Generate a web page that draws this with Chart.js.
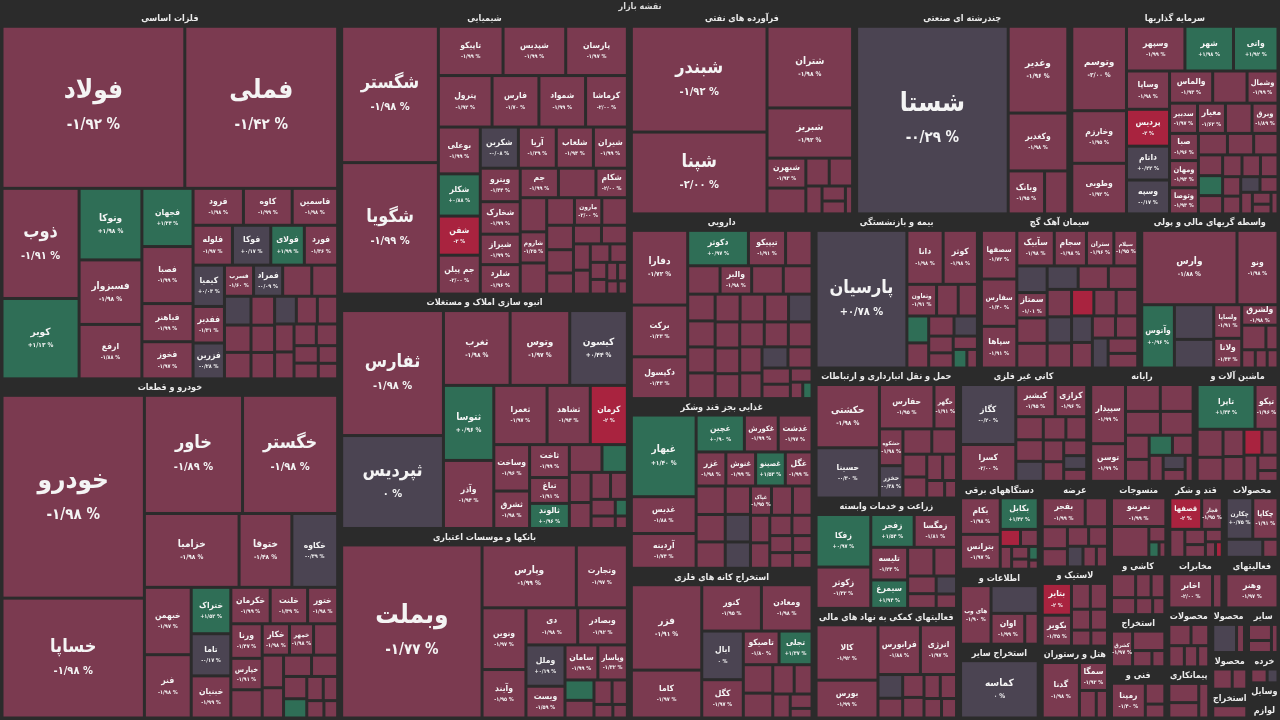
<!DOCTYPE html>
<html>
<head>
<meta charset="utf-8">
<script src="https://cdn.jsdelivr.net/npm/chart.js@4.4.0/dist/chart.umd.min.js"></script>
<style>
  html, body { margin: 0; padding: 0; background: #2b2b2b; }
  canvas { display: block; }
</style>
</head>
<body>
<canvas id="map" width="1280" height="720"></canvas>
<script>
// sectors of the market map, value = relative market size
var sectorNames = [
  'فلزات اساسی', 'خودرو و قطعات', 'شیمیایی', 'انبوه سازی املاک و مستغلات', 'بانکها و موسسات اعتباری',
  'فرآورده های نفتی', 'چندرشته ای صنعتی', 'سرمایه گذاریها', 'دارویی', 'غذایی بجز قند وشکر',
  'استخراج کانه های فلزی', 'بیمه و بازنشستگی', 'سیمان آهک گچ', 'واسطه گریهای مالی و پولی',
  'حمل و نقل انبارداری و ارتباطات', 'زراعت و خدمات وابسته', 'فعالیتهای کمکی به نهاد های مالی واسط',
  'کانی غیر فلزی', 'رایانه', 'ماشین آلات و تجهیزات', 'دستگاههای برقی', 'اطلاعات و ارتباطات',
  'استخراج سایر معادن', 'عرضه برق،گاز،بخار و آب گرم', 'لاستیک و پلاستیک', 'هتل و رستوران', 'منسوجات',
  'قند و شکر', 'محصولات کاغذی', 'کاشی و سرامیک', 'مخابرات', 'فعالیتهای هنری، سرگرمی و خلاقانه',
  'استخراج زغال سنگ', 'فنی و مهندسی', 'محصولات فلزی', 'پیمانکاری صنعتی', 'محصولات چوبی',
  'سایر واسطه گریهای مالی', 'محصولات چرمی', 'استخراج نفت گاز و خدمات جنبی', 'خرده فروشی',
  'وسایل ارتباطی', 'لوازم خانگی'
];
var sectorValues = [
  12580, 11560, 8265, 6815, 5510, 4613, 4408, 4305, 3423, 3145,
  2775, 2558, 2480, 2170, 1885, 1600, 1590, 1480, 1210, 965,
  720, 615, 605, 595, 550, 500, 445, 430, 425, 330,
  290, 285, 300, 295, 260, 225, 160, 150, 140, 110,
  95, 60, 50
];

// symbols per sector; cells past the end of a name list are too small for a label
var stockNames = [
  ['فولاد','فملی','ذوب','کویر','وتوکا','فسبزوار','ارفع','فجهان','فصبا','فرود','فباهنر','فخوز','کاوه','فاسمین','فلوله','فوکا','فولای','فورد','کیمیا','ففدیر','فزرین','فسرب','فمراد'],
  ['خودرو','خساپا','خاور','خگستر','خزامیا','ختوقا','خکاوه','خبهمن','فنر','ختراک','تاما','خبنیان','خکرمان','خلنت','ختور','ورنا','خپارس','خکار','خمهر'],
  ['شگستر','شگویا','تاپیکو','شپدیس','پارسان','پترول','فارس','شمواد','کرماشا','شکلر','بوعلی','شفن','جم پیلن','شکربن','آریا','شلعاب','شیران','ویترو','شخارک','شیراز','شلرد','جم','شکام','شاروم','مارون'],
  ['ثفارس','ثپردیس','ثغرب','وتوس','کیسون','ثتوسا','وآذر','ثعمرا','ثشاهد','کرمان','وساخت','ثشرق','ثاخت','تباغ','ثالوند'],
  ['وبملت','وپارس','وتجارت','ونوین','وآیند','دی','وبصادر','وملل','ویست','سامان','وپاسار'],
  ['شبندر','شپنا','شتران','شبریز','شبهرن'],
  ['شستا','وغدیر','وکغدیر','وبانک'],
  ['وتوسم','وخارزم','وطوبی','وسپهر','شهر','واتی','وساپا','پردیس','داتام','وسپه','والماس','وشمال','سدبیر','معیار','وبرق','صبا','ومهان','وتوصا'],
  ['دفارا','برکت','دکپسول','دکوثر','تیپیکو','والبر'],
  ['غبهار','غدیس','آردینه','غچین','غکورش','غدشت','غزر','غنوش','غصینو','غگل','غپاک'],
  ['فزر','کاما','کنور','ومعادن','ابال','کگل','تاصیکو','تجلی'],
  ['پارسیان','دانا','کوثر','وتعاون'],
  ['سصفها','سفارس','سپاها','سآبیک','سجام','ستران','سیلام','سمتاز'],
  ['وارس','ونو','وآتوس','ولساپا','ولانا','ولشرق'],
  ['حکشتی','حسینا','حفارس','حگهر','حشکوه','حخزر'],
  ['زفکا','زکوثر','زفجر','زمگسا','تلیسه','سیمرغ'],
  ['کالا','بورس','فرابورس','انرژی'],
  ['کگاز','کسرا','کیشیر','کرازی'],
  ['سپیدار','توسن'],
  ['تاپرا','تپکو'],
  ['بکام','بترانس','بکابل'],
  ['های وب','','اوان'],
  ['کماسه'],
  ['بفجر'],
  ['بتایر','بکویر'],
  ['گدنا','سمگا'],
  ['نمرینو'],
  ['قصفها','قجار'],
  ['چکارن','چکاپا'],
  [],
  ['اخابر'],
  ['وهنر'],
  ['کشرق'],
  ['رمپنا'],
  [], [], [], [], [], [], [], [], []
];

var stockValues = [
  [2946,2463,844,616,447,403,340,296,290,185,194,189,179,167,156,152,133,132,129,114,112,90,90, 90,80,76,72,70,68,64,62,60,58,56,54,52,48,46,42,38,34,30],
  [2903,1716,1166,1130,703,392,340,317,298,185,168,168,144,137,110,109,99,86,76, 89,76,70,65,60,56,52,45,40,35,30,24],
  [1311,1264,317,307,302,275,240,239,214,176,195,163,162,156,155,152,139,133,129,121,117,112,92,82,75, 110,90,82,76,70,65,62,56,52,48,44,40,36,32,28,24,20,18,15,12],
  [1263,939,495,443,428,375,340,313,254,218,165,133,130,102,99, 90,70,65,56,52,45,40,30,20,15],
  [2468,602,326,275,216,195,187,164,126,117,105, 60,52,45,38,26,20],
  [1431,1107,697,428,116, 100,65,65,45,35,30,20],
  [2820,513,342,155, 99],
  [459,286,275,260,216,198,164,158,145,145,138,99,84,84,78,78,78,75, 110,80,62,56,52,50,48,44,42,40,38,35,32,30,28,25,22,18,15],
  [413,286,231,211,129,88, 92,90,88,80,72,70,70,69,68,67,65,64,63,62,60,60,59,58,57,56,54,50,45,40,30,20,15],
  [517,233,220,174,122,122,99,99,99,89,60, 81,78,75,70,68,65,60,56,52,48,44,40,38,35,32,30],
  [574,322,264,224,193,152,115,106, 80,70,60,50,40,30,20],
  [1278,200,189,96, 70,62,60,56,52,48,42,38,33,26,20],
  [175,170,150,135,116,99,86,78, 82,60,78,76,74,72,70,68,65,62,60,58,56,54,52,50,48,46,44],
  [716,308,209,95,84,75, 138,114,60,30,25,22,20],
  [384,305,232,96,83,73, 70,60,52,48,40,35,30,20],
  [275,216,136,133,115,100, 72,62,48,40,35,28],
  [351,240,216,184, 60,50,50,45,40,40,35,30],
  [314,193,120,96, 60,56,52,50,46,42,38,34,30,26],
  [198,126, 90,85,80,75,55,50,45,40,35,30,25,20],
  [250,99, 70,60,55,50,45,40,35,30,21],
  [168,160,139, 40,35,30,25,20,15,10],
  [172,126,100,40],
  [440],
  [135, 70,60,50,45,40,35,30,25],
  [105,102, 55,50,45,40,35,30],
  [200,76,45,30],
  [149,110,25,15,10],
  [96,62,40,30,25,20,15,10],
  [100,95,60,25],
  [70,50,45,40,35,25],
  [140,30],
  [160],
  [72,60,30,20],
  [130,45,30],
  [50,40,35,30,25],
  [50,40,30],
  [60,20],
  [40,30,20],
  [40,30],
  [40],
  [30,20],
  [20],
  [20]
];

// percent change of each cell
var stockChanges = [
  [-1.92,-1.42,-1.91,1.13,1.98,-1.98,-1.88,1.34,-1.99,-1.98,-1.99,-1.97,-1.99,-1.98,-1.97,0.17,1.99,-1.36,0.03,-1.31,-0.28,-1.6,-0.09, -1.98,-1.95,0.12,-1.97,-1.99,-1.94,-1.96,-1.98,-0.2,-1.95,-1.99,-1.9,-1.97,-1.93,-1.98,-1.96,-1.9,-1.99,-1.95],
  [-1.98,-1.98,-1.89,-1.98,-1.98,-1.48,-0.39,-1.97,-1.98,1.52,-0.17,-1.99,-1.99,-1.39,-1.98,-1.47,-1.91,-1.98,-1.98, -1.97,-1.95,-1.99,-1.9,-1.96,-1.98,-1.93,1.2,-1.95,-1.99,-1.9,-1.97],
  [-1.98,-1.99,-1.99,-1.99,-1.97,-1.92,-1.7,-1.99,-1.996,0.88,-1.99,-2,-1.996,-0.08,-1.39,-1.94,-1.99,-1.44,-1.99,-1.99,-1.96,-1.99,-1.996,-1.25,-1.996, -1.98,-1.95,-1.99,-1.97,-1.9,-1.96,-1.98,-1.94,-1.99,-1.95,-1.9,-1.97,-1.93,-1.98,-1.96,-1.9,-1.99,-1.95,-1.97,-1.98],
  [-1.98,0,-1.98,-1.97,0.44,0.96,-1.94,-1.97,-1.94,-2,-1.96,-1.98,-1.99,-1.91,0.96, -1.97,1.2,-1.95,-1.99,-1.9,-1.96,-1.98,-1.93,1.1,-1.95],
  [-1.77,-1.99,-1.97,-1.97,-1.95,-1.98,-1.92,0.19,-1.59,-1.99,-1.32, 1.1,-1.96,-1.98,-1.93,-1.97,-1.9],
  [-1.92,-1.996,-1.98,-1.92,-1.93, -1.97,-1.95,-1.99,-1.9,-1.96,-1.98,-1.94],
  [-0.29,-1.96,-1.98,-1.95, -1.97],
  [-1.996,-1.95,-1.92,-1.99,1.98,1.92,-1.98,-2,0.22,-0.17,-1.93,-1.99,-1.97,-1.62,-1.89,-1.96,-1.94,-1.93, -1.97,-1.95,-1.99,-1.9,-1.96,-1.98,1.3,-1.93,-1.95,-1.99,-1.9,-1.97,-1.94,0.1,-1.96,-1.98,-1.93,-1.95,-1.9],
  [-1.72,-1.23,-1.43,0.97,-1.91,-1.98, -1.97,-1.95,-1.99,-1.9,-1.96,-1.98,-1.93,-1.95,-1.99,-1.9,-1.97,0.05,-1.94,-1.96,-1.98,-1.93,-1.95,-1.9,-1.97,-1.99,-0.1,-1.96,-1.98,-1.93,-1.95,-1.9,1.1],
  [1.4,-1.88,-1.74,0.9,-1.99,-1.97,-1.98,-1.99,1.53,-1.99,-1.95, -1.97,-1.95,-1.99,-1.9,0.1,-0.2,-1.96,-1.98,-1.93,-1.95,-1.99,-1.9,-1.97,-1.94,-1.96,-1.98],
  [-1.91,-1.97,-1.95,-1.98,0,-1.97,-1.8,1.37, -1.96,-1.98,-1.93,-1.95,-1.99,-1.9,-1.97],
  [0.78,-1.98,-1.98,-1.91, -1.96,-1.98,1.2,-1.93,-1.95,0.1,-1.99,-1.9,-1.97,1.1,-1.94],
  [-1.72,-1.4,-1.91,-1.98,-1.98,-1.96,-1.95,-1.01, 0.1,-2,-1.97,-1.95,0.05,-1.99,-1.9,-1.96,-0.1,-1.98,-1.93,-1.95,0.2,-1.99,-1.9,-1.97,-0.05,-1.94,-1.96],
  [-1.88,-1.98,0.96,-1.91,-1.43,-1.98, 0.05,-0.1,-1.96,-1.98,-1.93,-1.95,-1.9],
  [-1.98,-0.3,-1.95,-1.91,-1.98,-0.38, -1.96,-1.98,-1.93,-1.95,-1.99,-1.9,-1.97,-1.94],
  [0.97,-1.32,1.54,-1.81,-1.23,1.94, -1.96,-1.98,-1.93,-1.95,0.1,-1.9],
  [-1.92,-1.99,-1.88,-1.97, 0.05,-1.96,-1.98,-1.93,-1.95,-1.99,-1.9,-1.97],
  [-0.2,-1.996,-1.95,-1.96, -1.96,-1.98,0.1,-1.93,-1.95,-1.99,-1.9,-1.97,-0.1,-1.94],
  [-1.99,-1.99, -1.96,-1.98,-1.93,-1.95,-1.99,-1.9,1.2,-1.97,-1.94,0.05,-1.96,-1.98],
  [1.44,-1.96, -1.96,-1.98,-1.93,-1.95,-2,-1.99,-1.9,-1.97,-1.94],
  [-1.98,-1.97,1.42, -2,-1.96,-1.98,-1.93,-1.95,1.1,-1.9],
  [-1.9,0.05,-1.99,-1.95],
  [0],
  [-1.99, -1.96,-1.98,-1.93,-1.95,-1.99,0.1,-1.9,-1.97],
  [-2,-1.35, -1.96,-1.98,-1.93,-1.95,-1.99,-1.9],
  [-1.98,-1.92,-1.96,-1.98],
  [-1.99,-1.96,-1.98,1.1,-1.93],
  [-2,-1.95,-1.96,-1.98,-1.93,-1.95,-1.99,-2],
  [0.75,-1.91,-0.1,-1.96],
  [-1.96,-1.98,-1.93,-1.95,-1.99,-1.9],
  [-1.996,-1.95],
  [-1.97],
  [-1.97,-1.96,-1.98,-1.93],
  [-1.4,-1.96,-1.98],
  [-1.96,-1.98,-1.93,-1.95,-1.99],
  [-1.96,-1.98,-1.93],
  [0.05,-1.96],
  [-1.96,-1.98,-1.93],
  [-1.96,-1.98],
  [-1.96],
  [-1.96,0.05],
  [-1.96],
  [-1.98]
];

var FONT = "'DejaVu Sans Condensed', 'DejaVu Sans', sans-serif";
var FA_DIGITS = '۰۱۲۳۴۵۶۷۸۹';

function tone(c) {
  if (c <= -2) return '#a9233f';
  if (c <= -0.6) return '#7b3a50';
  if (c < 0.85) return '#4b4452';
  return '#2f6e56';
}

function pct(c) {
  var a = Math.abs(c);
  var s = Number.isInteger(a) ? String(a) : a.toFixed(2).replace('.', '/');
  s = s.replace(/[0-9]/g, function (d) { return FA_DIGITS[d]; });
  return (c < 0 ? '-' : c > 0 ? '+' : '') + s + ' %';
}

// squarified treemap (Bruls et al.), items must be sorted by value
function squarify(items, x0, y0, x1, y1) {
  var value = 0;
  items.forEach(function (d) { value += d.value; });
  var i0 = 0, i1 = 0, n = items.length;
  while (i0 < n) {
    var dx = x1 - x0, dy = y1 - y0;
    var sum = items[i1++].value;
    var minV = sum, maxV = sum;
    var alpha = Math.max(dy / dx, dx / dy) / value;
    var beta = sum * sum * alpha;
    var minRatio = Math.max(maxV / beta, beta / minV);
    for (; i1 < n; ++i1) {
      var v = items[i1].value;
      sum += v;
      if (v < minV) minV = v;
      if (v > maxV) maxV = v;
      beta = sum * sum * alpha;
      var r = Math.max(maxV / beta, beta / minV);
      if (r > minRatio) { sum -= v; break; }
      minRatio = r;
    }
    var row = items.slice(i0, i1);
    if (dx < dy) {
      var h = dy * sum / value, xx = x0;
      row.forEach(function (d) {
        var w = dx * d.value / sum;
        d.x0 = xx; d.x1 = xx + w; d.y0 = y0; d.y1 = y0 + h; xx += w;
      });
      y0 += h;
    } else {
      var w = dx * sum / value, yy = y0;
      row.forEach(function (d) {
        var hh = dy * d.value / sum;
        d.x0 = x0; d.x1 = x0 + w; d.y0 = yy; d.y1 = yy + hh; yy += hh;
      });
      x0 += w;
    }
    value -= sum;
    i0 = i1;
  }
}

function fitHeader(ctx, text, maxW) {
  var words = text.split(' ');
  for (var k = words.length; k > 0; k--) {
    var s = words.slice(0, k).join(' ');
    if (ctx.measureText(s).width <= maxW) return s;
  }
  for (var m = words[0].length - 1; m > 1; m--) {
    var t = words[0].slice(0, m);
    if (ctx.measureText(t).width <= maxW) return t;
  }
  return '';
}

var marketMap = {
  id: 'marketMap',
  afterDatasetsDraw: function (chart) {
    var ctx = chart.ctx;
    var xs = chart.scales.x, ys = chart.scales.y;
    var sectors = sectorNames.map(function (name, i) {
      return { name: name, value: sectorValues[i], i: i };
    });
    sectors.sort(function (a, b) { return b.value - a.value; });
    squarify(sectors, xs.min, ys.min, xs.max, ys.max);

    ctx.save();
    ctx.textAlign = 'center';
    ctx.textBaseline = 'middle';

    sectors.forEach(function (sec) {
      var sl = xs.getPixelForValue(sec.x0), sr = xs.getPixelForValue(sec.x1);
      var st = ys.getPixelForValue(sec.y0);
      ctx.font = 'bold 9px ' + FONT;
      ctx.fillStyle = '#ececec';
      var head = fitHeader(ctx, sec.name, sr - sl - 4);
      if (head) ctx.fillText(head, (sl + sr) / 2, st + 7);

      if (sec.y1 - sec.y0 < 17) return;
      var cells = stockValues[sec.i].map(function (v, j) {
        return { value: v, name: stockNames[sec.i][j] || '', change: stockChanges[sec.i][j] };
      });
      cells.sort(function (a, b) { return b.value - a.value; });
      squarify(cells, sec.x0 + 2, sec.y0 + 14.5, sec.x1 - 2, sec.y1 - 2);

      cells.forEach(function (c) {
        var l = xs.getPixelForValue(c.x0) + 1.5, r = xs.getPixelForValue(c.x1) - 1.5;
        var t = ys.getPixelForValue(c.y0) + 1.5, b = ys.getPixelForValue(c.y1) - 1.5;
        var w = r - l, h = b - t;
        if (w <= 0 || h <= 0) return;
        ctx.fillStyle = tone(c.change);
        ctx.fillRect(l, t, w, h);
        if (!c.name || w < 16 || h < 16) return;
        var s = Math.sqrt(w * h);
        var fs = s > 140 ? 26 : s > 85 ? 18 : s > 58 ? 10 : 8.5;
        ctx.font = 'bold ' + fs + 'px ' + FONT;
        while (fs > 6 && ctx.measureText(c.name).width > w - 4) {
          fs--;
          ctx.font = 'bold ' + fs + 'px ' + FONT;
        }
        var cs = fs >= 25 ? 15 : fs >= 17 ? 11 : fs >= 10 ? 6.5 : 5.5;
        var cx = (l + r) / 2, cy = (t + b) / 2;
        ctx.fillStyle = '#f4f4f4';
        ctx.fillText(c.name, cx, cy - fs * 0.6);
        ctx.font = 'bold ' + cs + 'px ' + FONT;
        ctx.fillText(pct(c.change), cx, cy + fs * 0.7);
      });
    });
    ctx.restore();
  }
};

new Chart(document.getElementById('map'), {
  type: 'scatter',
  data: { datasets: [{ data: [] }] },
  options: {
    responsive: false,
    animation: false,
    devicePixelRatio: 1,
    layout: { padding: 0 },
    scales: {
      x: { type: 'linear', min: 0, max: 1280, display: false },
      y: { type: 'linear', min: 0, max: 710, reverse: true, display: false }
    },
    plugins: {
      legend: { display: false },
      tooltip: { enabled: false },
      title: {
        display: true,
        text: 'نقشه بازار',
        color: '#dcdcdc',
        font: { family: FONT, size: 9, weight: 'bold' },
        padding: { top: 1, bottom: 0 }
      }
    }
  },
  plugins: [marketMap]
});
</script>
</body>
</html>
